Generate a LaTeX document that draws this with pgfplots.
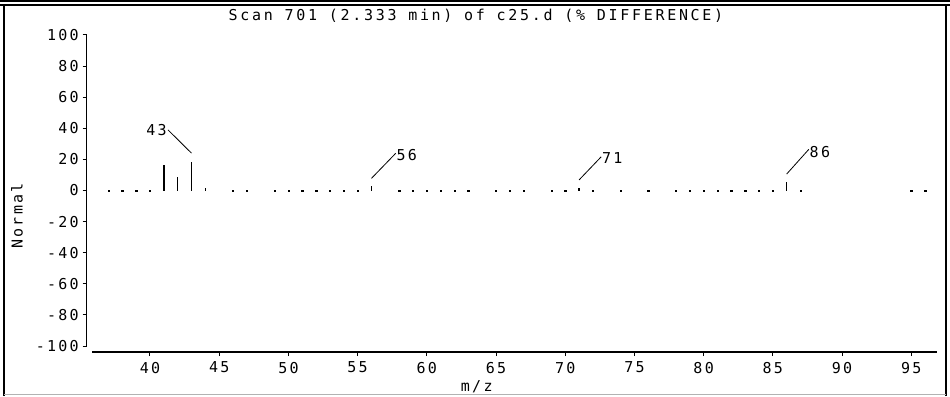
\documentclass[border=0pt]{standalone}
\usepackage{pgfplots}
\pgfplotsset{compat=1.18}
\usepackage{fontspec}
\newfontfamily\pix[LetterSpace=15]{DejaVu Sans Mono}
\newfontfamily\pixt[LetterSpace=18]{DejaVu Sans Mono}
\begin{document}
\begin{tikzpicture}[x=1bp,y=1bp]
\begin{axis}[
  at={(92bp,50bp)}, anchor=south west,
  scale only axis, width=845bp, height=311bp,
  xmin=35.81, xmax=96.86, ymin=-100, ymax=100,
  axis lines=left,
  axis line style={-, line width=1.2bp},
  axis x line shift=6bp,
  axis y line shift=5.3bp,
  xtick={40,45,...,95},
  ytick={-100,-80,...,100},
  tick align=outside,
  major tick length=4bp,
  tick style={line width=1bp, black},
  /pgf/number format/assume math mode=true,
  ticklabel style={font=\fontsize{15bp}{17bp}\pix},
  xticklabel style={yshift=-2.5bp},
  yticklabel style={xshift=-0.5bp},
  title={Scan 701 (2.333 min) of c25.d (\% DIFFERENCE)},
  title style={font=\fontsize{15bp}{17bp}\pixt, at={(rel axis cs:0.4544,1.061)}, anchor=center, yshift=-6pt},
  xlabel={m/z},
  xlabel style={font=\fontsize{15bp}{17bp}\pix, at={(rel axis cs:0.4553,-0.132)}, anchor=center},
  ylabel={Normal},
  ylabel style={font=\fontsize{15bp}{17bp}\pix, at={(rel axis cs:-0.0888,0.418)}, anchor=center, rotate=0},
  clip=false,
]
% zero-difference ions
\addplot[only marks, mark=square*, mark size=0.65bp, black] coordinates {
(37,0) (38,0) (39,0) (40,0) (46,0) (47,0) (49,0) (50,0) (51,0) (52,0) (53,0) (54,0) (55,0)
(58,0) (59,0) (60,0) (61,0) (62,0) (63,0) (65,0) (66,0) (67,0) (69,0) (70,0) (72,0) (74,0)
(76,0) (78,0) (79,0) (80,0) (81,0) (82,0) (83,0) (84,0) (85,0) (87,0) (95,0) (96,0)
};
% difference peaks
\addplot[ycomb, black, line width=1.5bp] coordinates {
(41,16.4) (42,8.9) (43,18.6) (44,1.6) (56,3) (71,1.6) (86,5.5)
};
% leader lines and labels
\addplot[black, line width=0.8bp] coordinates {(43,24) (41.3,39)} node[anchor=east, inner sep=1bp, font=\fontsize{15bp}{17bp}\pix] {43};
\addplot[black, line width=0.8bp] coordinates {(56,7.8) (57.75,23.9)} node[anchor=west, inner sep=0.5bp, yshift=-1.5bp, font=\fontsize{15bp}{17bp}\pix] {56};
\addplot[black, line width=0.8bp] coordinates {(71,6.8) (72.6,21.7)} node[anchor=west, inner sep=0.5bp, yshift=-1.5bp, font=\fontsize{15bp}{17bp}\pix] {71};
\addplot[black, line width=0.8bp] coordinates {(86,10.6) (87.6,26.5)} node[anchor=west, inner sep=0.5bp, yshift=-2.5bp, font=\fontsize{15bp}{17bp}\pix] {86};
\end{axis}
% window frame
\draw[line width=1.5bp] (0,395) -- (950,395);
\draw[line width=1.5bp] (0,391) -- (950,391);
\draw[line width=1.2bp] (4,0) -- (4,391);
\draw[line width=1.2bp] (946,0) -- (946,391);
\draw[line width=1.2bp, gray!60] (4,1.5) -- (946,1.5);
\pgfresetboundingbox
\useasboundingbox (0,0) rectangle (950,396);
\end{tikzpicture}
\end{document}
